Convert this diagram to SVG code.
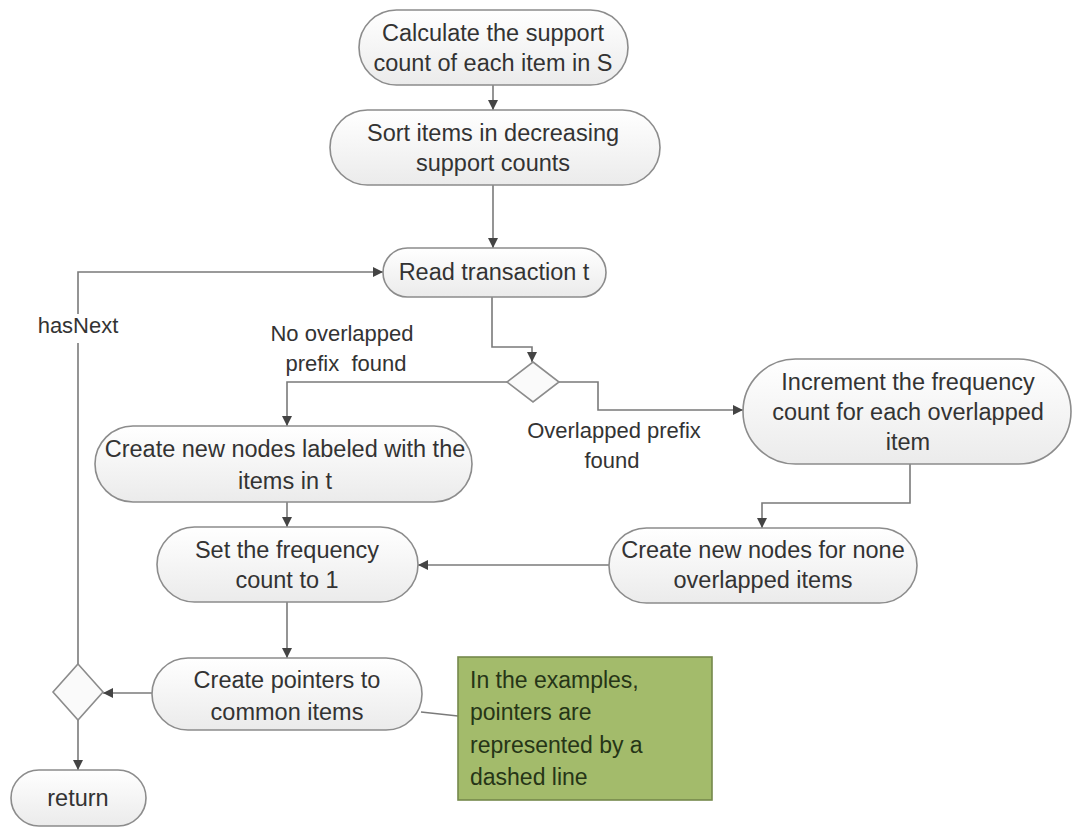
<svg xmlns="http://www.w3.org/2000/svg" width="1072" height="829" viewBox="0 0 1072 829">
<defs>
<linearGradient id="g" x1="0" y1="0" x2="0" y2="1">
<stop offset="0" stop-color="#ffffff"/>
<stop offset="1" stop-color="#ebebeb"/>
</linearGradient>
<marker id="a" viewBox="0 0 10 10" refX="10" refY="5" markerWidth="10" markerHeight="10" markerUnits="userSpaceOnUse" orient="auto">
<path d="M0,0 L10,5 L0,10 z" fill="#444"/>
</marker>
<style>
.n{fill:url(#g);stroke:#8c8c8c;stroke-width:1.6}
.d{fill:#fafafa;stroke:#8c8c8c;stroke-width:1.6}
.t{font-family:"Liberation Sans",Arial,sans-serif;font-size:23.5px;fill:#333333;text-anchor:middle}
.l{font-family:"Liberation Sans",Arial,sans-serif;font-size:22px;fill:#333333;text-anchor:middle;white-space:pre}
.c{fill:none;stroke:#7a7a7a;stroke-width:1.6}
.nt{font-family:"Liberation Sans",Arial,sans-serif;font-size:23px;fill:#263517}
</style>
</defs>
<rect width="1072" height="829" fill="#ffffff"/>
<g id="connectors">
<path class="c" d="M493,85 V110" marker-end="url(#a)"/>
<path class="c" d="M493,185 V248" marker-end="url(#a)"/>
<path class="c" d="M492,297 V347 H532 V362" marker-end="url(#a)"/>
<path class="c" d="M507,382 H287 V426" marker-end="url(#a)"/>
<path class="c" d="M559,382 H598 V410 H743" marker-end="url(#a)"/>
<path class="c" d="M910,464 V503 H762 V528" marker-end="url(#a)"/>
<path class="c" d="M609,565 H418" marker-end="url(#a)"/>
<path class="c" d="M287,502 V527" marker-end="url(#a)"/>
<path class="c" d="M287,602 V658" marker-end="url(#a)"/>
<path class="c" d="M152,693 H103" marker-end="url(#a)"/>
<path class="c" d="M78,720 V770" marker-end="url(#a)"/>
<path class="c" d="M78,664 V343"/>
<path class="c" d="M78,314 V272 H383" marker-end="url(#a)"/>
<path class="c" d="M421,712 L458,716"/>
<text class="l" x="78" y="333">hasNext</text>
<text class="l" x="342" y="341">No overlapped</text>
<text class="l" x="346" y="371" xml:space="preserve">prefix  found</text>
<text class="l" x="614" y="438">Overlapped prefix</text>
<text class="l" x="612" y="468">found</text>
</g>
<g id="n1">
<rect class="n" x="359" y="10" width="269" height="75" rx="37.5"/>
<text class="t" x="493" y="41">Calculate the support</text>
<text class="t" x="493" y="71">count of each item in S</text>
</g>
<g id="n2">
<rect class="n" x="330" y="110" width="330" height="75" rx="37.5"/>
<text class="t" x="493" y="141">Sort items in decreasing</text>
<text class="t" x="493" y="171">support counts</text>
</g>
<g id="n3">
<rect class="n" x="383" y="248" width="223" height="49" rx="24.5"/>
<text class="t" x="494" y="280">Read transaction t</text>
</g>
<g id="dec1">
<path class="d" d="M533,362 L559,382 L533,402 L507,382 z"/>
</g>
<g id="n4">
<rect class="n" x="95" y="426" width="377" height="76" rx="38"/>
<text class="t" x="285" y="457">Create new nodes labeled with the</text>
<text class="t" x="285" y="489">items in t</text>
</g>
<g id="n5">
<rect class="n" x="743" y="359" width="328" height="105" rx="52.5"/>
<text class="t" x="908" y="390">Increment the frequency</text>
<text class="t" x="908" y="420">count for each overlapped</text>
<text class="t" x="908" y="450">item</text>
</g>
<g id="n6">
<rect class="n" x="609" y="528" width="308" height="75" rx="37.5"/>
<text class="t" x="763" y="558">Create new nodes for none</text>
<text class="t" x="763" y="588">overlapped items</text>
</g>
<g id="n7">
<rect class="n" x="157" y="527" width="261" height="75" rx="37.5"/>
<text class="t" x="287" y="558">Set the frequency</text>
<text class="t" x="287" y="588">count to 1</text>
</g>
<g id="n8">
<rect class="n" x="152" y="658" width="270" height="72" rx="36"/>
<text class="t" x="287" y="688">Create pointers to</text>
<text class="t" x="287" y="720">common items</text>
</g>
<g id="dec2">
<path class="d" d="M78,664 L103,692 L78,720 L53,692 z"/>
</g>
<g id="ret">
<rect class="n" x="11" y="770" width="135" height="56" rx="28"/>
<text class="t" x="78" y="806">return</text>
</g>
<g id="note">
<rect x="458" y="657" width="254" height="143" fill="#a3bb6b" stroke="#75894c" stroke-width="1.6"/>
<text class="nt" x="470" y="688">In the examples,</text>
<text class="nt" x="470" y="720">pointers are</text>
<text class="nt" x="470" y="753">represented by a</text>
<text class="nt" x="470" y="785">dashed line</text>
</g>
</svg>
